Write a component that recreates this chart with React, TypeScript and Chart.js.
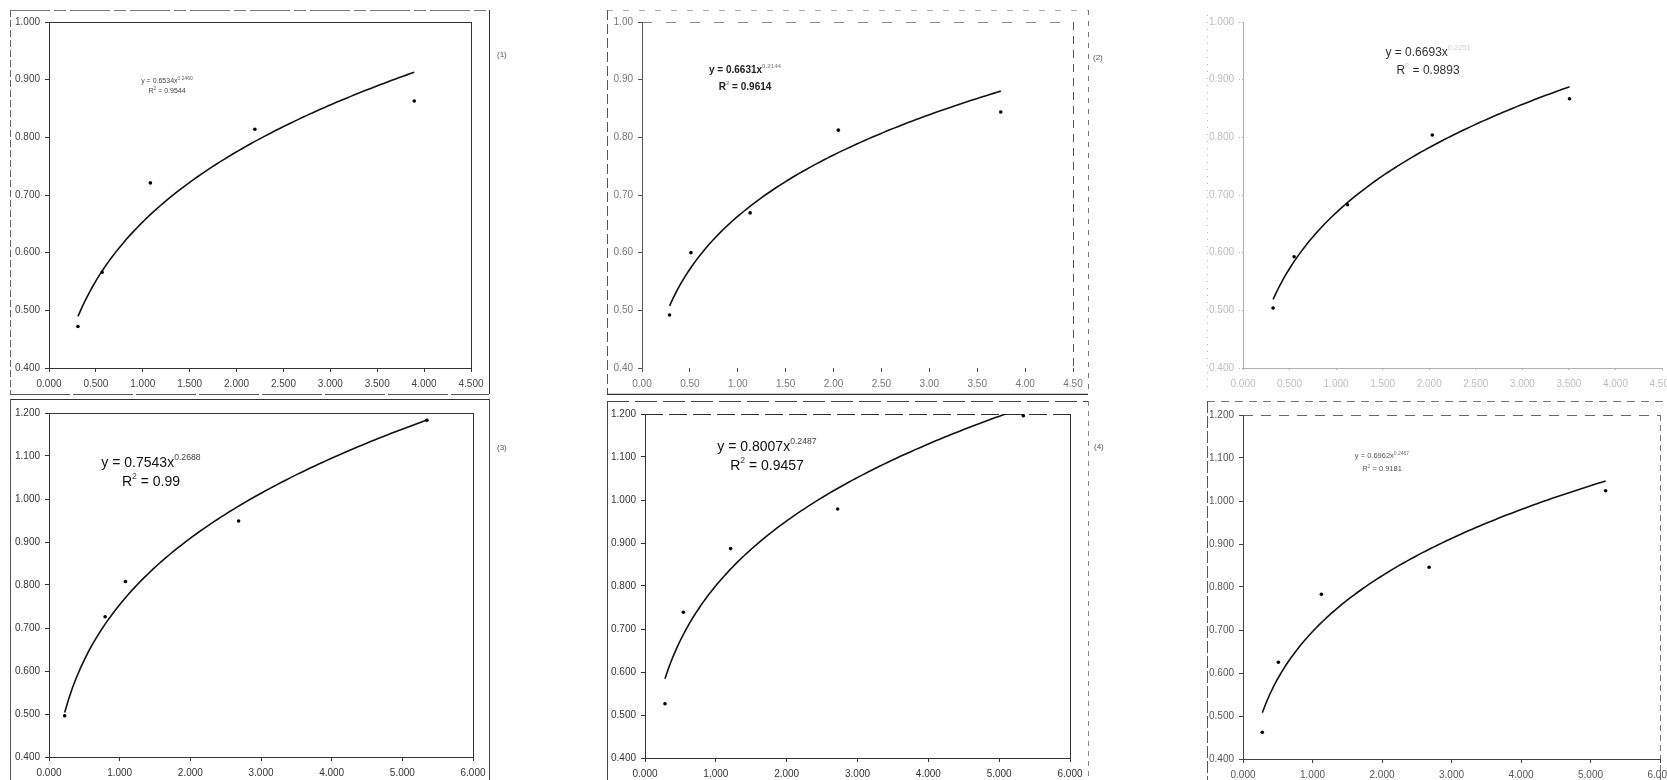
import React, { useEffect, useRef } from "react";
import { Chart, registerables } from "chart.js";

Chart.register(...registerables);

const FONT = "'Liberation Sans', Arial, Helvetica, sans-serif";
Chart.defaults.font.family = FONT;

// Measured points for each of the six samples (x, y)
const xA = [0.309, 0.566, 1.081, 2.195, 3.895];
const yA = [0.472, 0.566, 0.721, 0.814, 0.863];
const xB = [0.288, 0.511, 1.129, 2.05, 3.746];
const yB = [0.492, 0.6, 0.669, 0.8125, 0.844];
const xC = [0.323, 0.549, 1.122, 2.033, 3.507];
const yC = [0.504, 0.593, 0.683, 0.804, 0.867];
const xD = [0.222, 0.794, 1.082, 2.683, 5.348];
const yD = [0.496, 0.726, 0.808, 0.949, 1.183];
const xE = [0.282, 0.541, 1.209, 2.72, 5.341];
const yE = [0.526, 0.739, 0.887, 0.979, 1.196];
const xF = [0.278, 0.509, 1.128, 2.678, 5.218];
const yF = [0.462, 0.625, 0.783, 0.846, 1.024];

// Power trendlines y = a·x^b with their R²
const fitA = { a: 0.6534, b: 0.246, r2: "0.9544" };
const fitB = { a: 0.6631, b: 0.2144, r2: "0.9614" };
const fitC = { a: 0.6693, b: 0.2251, r2: "0.9893" };
const fitD = { a: 0.7543, b: 0.2688, r2: "0.99" };
const fitE = { a: 0.8007, b: 0.2487, r2: "0.9457" };
const fitF = { a: 0.6962, b: 0.2467, r2: "0.9181" };

// Axis ranges
const axisTop = { xMax: 4.5, xStep: 0.5, yMin: 0.4, yMax: 1.0, yStep: 0.1 };
const axisBottom = { xMax: 6, xStep: 1, yMin: 0.4, yMax: 1.2, yStep: 0.1 };

// Side captions
const captions = ["(1)", "(2)", "(3)", "(4)"];

type Seg = [number, number, number, number, string, number, number[]];

type PanelCfg = {
  id: string;
  box: { x: number; y: number; w: number; h: number };
  area: { l: number; t: number; r: number; b: number };
  xs: number[];
  ys: number[];
  fit: { a: number; b: number; r2: string };
  axes: { xMax: number; xStep: number; yMin: number; yMax: number; yStep: number };
  xDigits: number;
  yDigits: number;
  tickColor: string;
  axisColor: string;
  axisDash: number[];
  xBorder: boolean;
  tickDash: number[];
  lineColor: string;
  eq: { cx: number; y1: number; y2: number; size: number; bold: boolean; color: string; supColor: string };
  side?: { text: string; x: number; y: number };
  lines: Seg[];
};

const panels: PanelCfg[] = [
  {
    id: "a",
    box: { x: 0, y: 0, w: 590, h: 395 },
    area: { l: 49, t: 22, r: 471, b: 368 },
    xs: xA, ys: yA, fit: fitA, axes: axisTop, xDigits: 3, yDigits: 3,
    tickColor: "#444", axisColor: "#333", axisDash: [], xBorder: true, tickDash: [],
    lineColor: "#111",
    eq: { cx: 167, y1: 81, y2: 91, size: 7, bold: false, color: "#444", supColor: "#666" },
    side: { text: captions[0], x: 497, y: 55 },
    lines: [
      [10, 10, 489, 10, "#777", 1, [40, 4, 12, 4]],
      [10, 10, 10, 394, "#666", 1, [7, 3]],
      [489, 10, 489, 394, "#333", 1, []],
      [10, 394, 489, 394, "#555", 1, [60, 3]],
      [49, 22, 471, 22, "#333", 1, []],
      [471, 22, 471, 368, "#333", 1, []],
    ],
  },
  {
    id: "b",
    box: { x: 590, y: 0, w: 590, h: 395 },
    area: { l: 642, t: 22, r: 1073, b: 368 },
    xs: xB, ys: yB, fit: fitB, axes: axisTop, xDigits: 2, yDigits: 2,
    tickColor: "#777", axisColor: "#555", axisDash: [6, 4], xBorder: false, tickDash: [],
    lineColor: "#111",
    eq: { cx: 745, y1: 70, y2: 87, size: 10, bold: true, color: "#222", supColor: "#999" },
    side: { text: captions[1], x: 1093, y: 58 },
    lines: [
      [607, 10, 1088, 10, "#aaa", 1, [6, 10]],
      [607, 10, 607, 394, "#555", 1, [10, 4]],
      [1088, 10, 1088, 394, "#777", 1, [5, 6]],
      [607, 394, 1088, 394, "#333", 1.5, []],
      [642, 22, 1073, 22, "#888", 1, [10, 14]],
      [1073, 22, 1073, 368, "#555", 1, [8, 6]],
    ],
  },
  {
    id: "c",
    box: { x: 1180, y: 0, w: 520, h: 395 },
    area: { l: 1243, t: 22, r: 1662, b: 368 },
    xs: xC, ys: yC, fit: fitC, axes: axisTop, xDigits: 3, yDigits: 3,
    tickColor: "#bdbdbd", axisColor: "#b0b0b0", axisDash: [1, 7], xBorder: true, tickDash: [1, 2],
    lineColor: "#111",
    eq: { cx: 1428, y1: 53, y2: 71, size: 12, bold: false, color: "#333", supColor: "#d0d0d0" },
    lines: [
      [1207, 15, 1207, 392, "#b5b5b5", 1, [1, 6]],
      [1580, 368, 1662, 368, "#999", 1, [6, 4]],
    ],
  },
  {
    id: "d",
    box: { x: 0, y: 395, w: 590, h: 385 },
    area: { l: 49, t: 413, r: 473, b: 757 },
    xs: xD, ys: yD, fit: fitD, axes: axisBottom, xDigits: 3, yDigits: 3,
    tickColor: "#333", axisColor: "#333", axisDash: [], xBorder: true, tickDash: [],
    lineColor: "#111",
    eq: { cx: 151, y1: 463, y2: 482, size: 14, bold: false, color: "#111", supColor: "#444" },
    side: { text: captions[2], x: 497, y: 448 },
    lines: [
      [10, 399, 489, 399, "#333", 1.2, []],
      [10, 399, 10, 780, "#555", 1, []],
      [489, 399, 489, 780, "#444", 1, []],
      [49, 413, 473, 413, "#333", 1, []],
      [473, 413, 473, 757, "#333", 1, []],
    ],
  },
  {
    id: "e",
    box: { x: 590, y: 395, w: 590, h: 385 },
    area: { l: 645, t: 414, r: 1070, b: 758 },
    xs: xE, ys: yE, fit: fitE, axes: axisBottom, xDigits: 3, yDigits: 3,
    tickColor: "#333", axisColor: "#333", axisDash: [], xBorder: true, tickDash: [],
    lineColor: "#111",
    eq: { cx: 767, y1: 447, y2: 466, size: 14, bold: false, color: "#111", supColor: "#444" },
    side: { text: captions[3], x: 1094, y: 447 },
    lines: [
      [607, 401, 1088, 401, "#444", 1, [22, 6]],
      [607, 401, 607, 780, "#444", 1, []],
      [1088, 401, 1088, 780, "#888", 1, [5, 5]],
      [645, 414, 1070, 414, "#333", 1, [18, 6]],
      [1070, 414, 1070, 758, "#333", 1, []],
    ],
  },
  {
    id: "f",
    box: { x: 1180, y: 395, w: 520, h: 385 },
    area: { l: 1243, t: 415, r: 1660, b: 759 },
    xs: xF, ys: yF, fit: fitF, axes: axisBottom, xDigits: 3, yDigits: 3,
    tickColor: "#555", axisColor: "#444", axisDash: [], xBorder: true, tickDash: [],
    lineColor: "#111",
    eq: { cx: 1382, y1: 456, y2: 469, size: 7.5, bold: false, color: "#555", supColor: "#777" },
    lines: [
      [1207, 401, 1667, 401, "#777", 1, [8, 6]],
      [1207, 401, 1207, 780, "#555", 1, [12, 3]],
      [1243, 415, 1660, 415, "#666", 1, [10, 8]],
      [1660, 415, 1660, 780, "#777", 1, [6, 4]],
    ],
  },
];

function trendPoints(xs: number[], a: number, b: number) {
  const lo = Math.min(...xs);
  const hi = Math.max(...xs);
  const pts: { x: number; y: number }[] = [];
  const n = 90;
  for (let i = 0; i <= n; i++) {
    const x = lo + ((hi - lo) * i) / n;
    pts.push({ x, y: a * Math.pow(x, b) });
  }
  return pts;
}

type Piece = { t: string; sup?: boolean };

function drawRich(
  ctx: CanvasRenderingContext2D,
  pieces: Piece[],
  cx: number,
  cy: number,
  size: number,
  bold: boolean,
  color: string,
  supColor: string
) {
  const w = bold ? "bold " : "";
  const baseFont = `${w}${size}px ${FONT}`;
  const supSize = Math.max(5, size * 0.62);
  const supFont = `${w}${supSize}px ${FONT}`;
  let total = 0;
  const widths = pieces.map((p) => {
    ctx.font = p.sup ? supFont : baseFont;
    const m = ctx.measureText(p.t).width;
    total += m;
    return m;
  });
  let x = cx - total / 2;
  ctx.textBaseline = "middle";
  ctx.textAlign = "left";
  pieces.forEach((p, i) => {
    ctx.font = p.sup ? supFont : baseFont;
    ctx.fillStyle = p.sup ? supColor : color;
    ctx.fillText(p.t, x, p.sup ? cy - size * 0.38 : cy);
    x += widths[i];
  });
}

function Panel({ cfg }: { cfg: PanelCfg }) {
  const ref = useRef<HTMLCanvasElement | null>(null);

  useEffect(() => {
    const c = cfg;
    const canvas = ref.current;
    if (!canvas) return;
    const yAxisW = 40;
    const xAxisH = 20;
    const ox = c.box.x;
    const oy = c.box.y;
    const padding = {
      left: c.area.l - ox - yAxisW,
      top: c.area.t - oy,
      right: ox + c.box.w - c.area.r,
      bottom: oy + c.box.h - c.area.b - xAxisH,
    };

    const decor = {
      id: "decor_" + c.id,
      beforeDraw(chart: any) {
        const ctx: CanvasRenderingContext2D = chart.ctx;
        ctx.save();
        ctx.fillStyle = "#ffffff";
        ctx.fillRect(0, 0, chart.width, chart.height);
        c.lines.forEach(([x1, y1, x2, y2, col, lw, dash]) => {
          ctx.strokeStyle = col;
          ctx.lineWidth = lw;
          ctx.setLineDash(dash);
          ctx.beginPath();
          const sx = x1 === x2 ? 0.5 : 0;
          const sy = y1 === y2 ? 0.5 : 0;
          ctx.moveTo(x1 - ox + sx, y1 - oy + sy);
          ctx.lineTo(x2 - ox + sx, y2 - oy + sy);
          ctx.stroke();
        });
        ctx.restore();
      },
      afterDraw(chart: any) {
        const ctx: CanvasRenderingContext2D = chart.ctx;
        ctx.save();
        const e = c.eq;
        drawRich(
          ctx,
          [{ t: `y = ${c.fit.a.toFixed(4)}x` }, { t: c.fit.b.toFixed(4), sup: true }],
          e.cx - ox, e.y1 - oy, e.size, e.bold, e.color, e.supColor
        );
        drawRich(
          ctx,
          [{ t: "R" }, { t: "2", sup: true }, { t: ` = ${c.fit.r2}` }],
          e.cx - ox, e.y2 - oy, e.size, e.bold, e.color, e.supColor
        );
        if (c.side) {
          ctx.font = `8px ${FONT}`;
          ctx.fillStyle = "#555";
          ctx.textAlign = "left";
          ctx.textBaseline = "middle";
          ctx.fillText(c.side.text, c.side.x - ox, c.side.y - oy);
        }
        ctx.restore();
      },
    };

    const chart = new Chart(canvas, {
      type: "scatter",
      data: {
        datasets: [
          {
            data: trendPoints(c.xs, c.fit.a, c.fit.b),
            showLine: true,
            pointRadius: 0,
            borderColor: c.lineColor,
            borderWidth: 1.6,
            tension: 0,
            order: 2,
          },
          {
            data: c.xs.map((x, i) => ({ x, y: c.ys[i] })),
            pointRadius: 1.8,
            pointBackgroundColor: "#000",
            pointBorderWidth: 0,
            showLine: false,
            order: 1,
          },
        ],
      },
      options: {
        animation: false,
        responsive: false,
        maintainAspectRatio: false,
        events: [],
        layout: { padding },
        plugins: {
          legend: { display: false },
          tooltip: { enabled: false },
          title: { display: false },
        },
        scales: {
          x: {
            type: "linear",
            position: "bottom",
            min: 0,
            max: c.axes.xMax,
            afterFit: (s: any) => {
              s.height = xAxisH;
            },
            ticks: {
              stepSize: c.axes.xStep,
              autoSkip: false,
              maxRotation: 0,
              padding: 6,
              color: c.tickColor,
              font: { size: 10, family: FONT },
              callback: (v: any) => Number(v).toFixed(c.xDigits),
            },
            grid: {
              display: true,
              drawOnChartArea: false,
              drawTicks: true,
              tickLength: 4,
              color: c.axisColor,
              tickBorderDash: c.tickDash,
            },
            border: { display: c.xBorder, color: c.axisColor, dash: c.axisDash },
          },
          y: {
            type: "linear",
            position: "left",
            min: c.axes.yMin,
            max: c.axes.yMax,
            afterFit: (s: any) => {
              s.width = yAxisW;
            },
            ticks: {
              stepSize: c.axes.yStep,
              autoSkip: false,
              padding: 5,
              color: c.tickColor,
              font: { size: 10, family: FONT },
              callback: (v: any) => Number(v).toFixed(c.yDigits),
            },
            grid: {
              display: true,
              drawOnChartArea: false,
              drawTicks: true,
              tickLength: 4,
              color: c.axisColor,
              tickBorderDash: c.tickDash,
            },
            border: { display: true, color: c.axisColor, dash: c.axisDash },
          },
        },
      },
      plugins: [decor],
    } as any);

    return () => {
      chart.destroy();
    };
  }, [cfg]);

  return (
    <canvas
      ref={ref}
      width={cfg.box.w}
      height={cfg.box.h}
      style={{
        position: "absolute",
        left: cfg.box.x,
        top: cfg.box.y,
        width: cfg.box.w,
        height: cfg.box.h,
        display: "block",
      }}
    />
  );
}

export default function App() {
  return (
    <div
      style={{
        position: "fixed",
        left: 0,
        top: 0,
        width: 1667,
        height: 780,
        overflow: "hidden",
        background: "#ffffff",
      }}
    >
      {panels.map((p) => (
        <Panel key={p.id} cfg={p} />
      ))}
    </div>
  );
}
